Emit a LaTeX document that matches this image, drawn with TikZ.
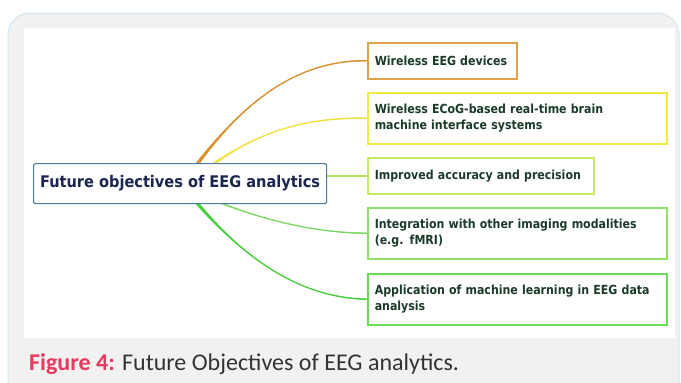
\documentclass[tikz,border=0pt]{standalone}
\usepackage{fontspec}
\setmainfont{DejaVu Sans}
\newfontfamily\boxfont[FakeStretch=0.88]{DejaVu Sans}
\newfontfamily\mainfont[FakeStretch=0.91]{DejaVu Sans}
\newfontfamily\capfont{Carlito}
\usetikzlibrary{calc}
\pgfdeclarelayer{back}
\pgfdeclarelayer{links}
\pgfsetlayers{back,links,main}
\definecolor{panelgray}{HTML}{F1F1F1}
\definecolor{panelblue}{HTML}{D3E5F1}
\definecolor{mainborder}{HTML}{4A7FA5}
\definecolor{maintext}{HTML}{1A2550}
\definecolor{boxtext}{HTML}{1B3A2A}
\definecolor{corange}{HTML}{E0A248}
\definecolor{lorange}{HTML}{D8912C}
\definecolor{cyellow}{HTML}{F2EA40}
\definecolor{lyellow}{HTML}{F0E23A}
\definecolor{clime}{HTML}{C6EC62}
\definecolor{llime}{HTML}{B8E25A}
\definecolor{cgreen}{HTML}{8EE06A}
\definecolor{lgreen}{HTML}{7CD862}
\definecolor{cgreenb}{HTML}{66DD55}
\definecolor{lgreenb}{HTML}{48CF3E}
\definecolor{capred}{HTML}{E8395F}
\definecolor{capgray}{HTML}{333333}
\tikzset{
  obox/.style={draw=#1, line width=1.5pt, anchor=north west, inner ysep=0pt, inner xsep=7pt,
    align=left, text=boxtext, font=\boxfont\bfseries\fontsize{12.5}{16.5}\selectfont},
  mainbox/.style={draw=mainborder, line width=1.2pt, rounded corners=2pt, anchor=north west,
    minimum width=293pt, minimum height=40pt, inner sep=0pt, text=maintext,
    font=\mainfont\bfseries\fontsize{16}{18}\selectfont, fill=white},
  thinlink/.style={draw=#1, line width=1.5pt}
}
\newcommand{\taperlink}[6]{%
  \fill[#1] ([xshift=-#6]#2) .. controls (#3) and (#4) .. ([yshift=0.7pt]#5)
    -- ([yshift=-0.7pt]#5) .. controls (#4) and (#3) .. ([xshift=#6]#2) -- cycle;
  \draw[#1, line width=1.3pt] (#2) .. controls (#3) and (#4) .. (#5);}
\begin{document}
\begin{tikzpicture}[x=1pt,y=-1pt]
\useasboundingbox (0,0) rectangle (681,383);
% panel
\begin{pgfonlayer}{back}
\filldraw[fill=panelgray, draw=panelblue, line width=1pt, rounded corners=22pt] (8,13) rectangle (679,410);
\fill[white] (24,28) rectangle (675,338);
\end{pgfonlayer}
% nodes
\node[mainbox] (main) at (33,163) {Future objectives of EEG analytics};
\node[obox=corange, text width=135pt, minimum height=36pt] (b1) at (367,42) {\mbox{Wireless EEG devices}};
\node[obox=cyellow, text width=285pt, minimum height=51pt] (b2) at (367,92) {\mbox{Wireless ECoG-based real-time brain}\\\mbox{machine interface systems}};
\node[obox=clime, text width=212pt, minimum height=36pt] (b3) at (367,157) {\mbox{Improved accuracy and precision}};
\node[obox=cgreen, text width=285pt, minimum height=51pt] (b4) at (367,207) {\mbox{Integration with other imaging modalities}\\\mbox{(e.g. fMRI)}};
\node[obox=cgreenb, text width=285pt, minimum height=51pt] (b5) at (367,273) {\mbox{Application of machine learning in EEG data}\\\mbox{analysis}};
% connector roots
\coordinate (r1) at ($(main.north west)+(165,0)$);
\coordinate (r2) at ($(main.north west)+(182,0)$);
\coordinate (r4) at ($(main.south west)+(191,0)$);
\coordinate (r5) at ($(main.south west)+(165,0)$);
\coordinate (c1a) at (252,92);
\coordinate (c1b) at (305,60);
\coordinate (c2a) at (262,130);
\coordinate (c2b) at (310,117);
\coordinate (c4a) at (270,222);
\coordinate (c4b) at (320,233);
\coordinate (c5a) at (255,270);
\coordinate (c5b) at (310,298);
\begin{pgfonlayer}{links}
\taperlink{lorange}{r1}{c1a}{c1b}{b1.west}{2.2pt}
\taperlink{lyellow}{r2}{c2a}{c2b}{b2.west}{2.2pt}
\draw[thinlink=llime] (main.east |- b3.west) -- (b3.west);
\taperlink{lgreen}{r4}{c4a}{c4b}{b4.west}{2.2pt}
\taperlink{lgreenb}{r5}{c5a}{c5b}{b5.west}{2.2pt}
\end{pgfonlayer}
% caption
\node[anchor=base west, inner sep=0pt, font=\capfont\fontsize{24}{26}\selectfont, text=capgray] (cap) at (29,370)
  {\textcolor{capred}{\bfseries Figure 4:} Future Objectives of EEG analytics.};
\end{tikzpicture}
\end{document}
